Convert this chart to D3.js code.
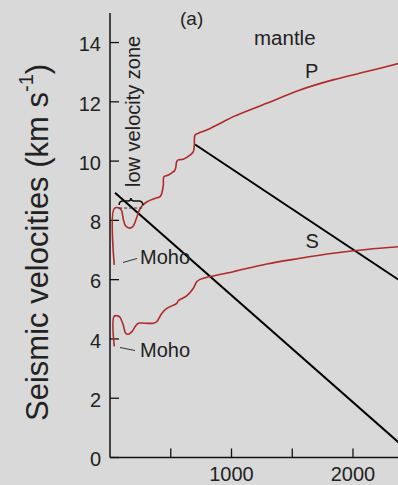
<!DOCTYPE html>
<html>
<head>
<meta charset="utf-8">
<script src="https://cdn.jsdelivr.net/npm/d3@7"></script>
<style>
  html, body { margin: 0; padding: 0; background: #d9d9d9; }
  svg { display: block; }
  text { font-family: "Liberation Sans", Arial, Helvetica, sans-serif; fill: #222; }
</style>
</head>
<body>
<svg id="chart" width="398" height="485"></svg>
<script>
// Depth (km) and seismic velocity (km/s) profiles
const pDepth = [35, 35, 82, 96, 110, 129, 165, 192, 220, 239, 261, 302, 371, 412, 425, 439, 444, 480, 535, 549, 562, 603, 658, 686, 694, 700, 727, 796, 905, 1015, 1290, 1564, 1835, 2113, 2400];
const pVel   = [6.50, 8.40, 8.40, 8.32, 8.03, 7.81, 7.74, 7.81, 8.10, 8.32, 8.48, 8.62, 8.74, 8.80, 8.90, 9.19, 9.47, 9.53, 9.70, 9.98, 10.04, 10.06, 10.20, 10.32, 10.54, 10.88, 10.94, 11.05, 11.27, 11.50, 11.95, 12.40, 12.74, 13.02, 13.32];

const sDepth = [35, 35, 68, 82, 109, 129, 151, 179, 206, 233, 288, 356, 384, 426, 467, 549, 562, 631, 686, 714, 741, 1015, 1290, 1564, 1838, 2113, 2400];
const sVel   = [3.75, 4.77, 4.77, 4.73, 4.47, 4.19, 4.16, 4.24, 4.41, 4.53, 4.53, 4.53, 4.58, 4.86, 5.03, 5.20, 5.29, 5.45, 5.71, 5.93, 6.01, 6.27, 6.53, 6.72, 6.89, 7.02, 7.12];

// Two straight reference lines (start and end points)
const line1Depth = [41, 2400];
const line1Vel   = [8.93, 0.42];
const line2Depth = [700, 2400];
const line2Vel   = [10.56, 5.93];

// Axis ticks
const yTicks = [0, 2, 4, 6, 8, 10, 12, 14];
const xTicks = [500, 1000, 1500, 2000];
const xTickLabels = [1000, 2000];

const svg = d3.select("#chart");

const x = d3.scaleLinear().domain([0, 2400]).range([110, 401.6]);
const y = d3.scaleLinear().domain([0, 15]).range([457.5, 12.9]);

// Axes lines
svg.append("line").attr("x1", x(0)).attr("x2", 398).attr("y1", y(0)).attr("y2", y(0))
  .attr("stroke", "#111").attr("stroke-width", 1.5);
svg.append("line").attr("x1", x(0)).attr("x2", x(0)).attr("y1", y(0)).attr("y2", y(15))
  .attr("stroke", "#111").attr("stroke-width", 1.5);

// Inward ticks
svg.selectAll(".ytick").data(yTicks).enter().append("line")
  .attr("x1", x(0)).attr("x2", x(0) + 9)
  .attr("y1", d => y(d)).attr("y2", d => y(d))
  .attr("stroke", "#111").attr("stroke-width", 1.3);
svg.selectAll(".xtick").data(xTicks).enter().append("line")
  .attr("x1", d => x(d)).attr("x2", d => x(d))
  .attr("y1", y(0)).attr("y2", y(0) - 9)
  .attr("stroke", "#111").attr("stroke-width", 1.3);

// Tick labels
svg.selectAll(".ylab").data(yTicks).enter().append("text")
  .attr("x", 101).attr("y", d => y(d) + 8.7)
  .attr("text-anchor", "end").attr("font-size", 20)
  .text(d => d);
svg.selectAll(".xlab").data(xTickLabels).enter().append("text")
  .attr("x", d => x(d)).attr("y", 480.5)
  .attr("text-anchor", "middle").attr("font-size", 20)
  .text(d => d);

// Y axis title
const yt = svg.append("text")
  .attr("transform", "translate(47.5,421) rotate(-90)")
  .attr("font-size", 31);
yt.append("tspan").text("Seismic velocities (km s");
yt.append("tspan").attr("font-size", 20).attr("dy", -15).text("-1");
yt.append("tspan").attr("dy", 15).text(")");

// Velocity profiles
const lineGen = d3.line().x(d => x(d[0])).y(d => y(d[1]));
const smoothGen = d3.line().x(d => x(d[0])).y(d => y(d[1])).curve(d3.curveCatmullRom.alpha(0.5));
const pData = pDepth.map((d, i) => [d, pVel[i]]);
const sData = sDepth.map((d, i) => [d, sVel[i]]);

// Straight reference lines
[[line1Depth, line1Vel], [line2Depth, line2Vel]].forEach(([dd, vv]) => {
  svg.append("path")
    .datum(dd.map((d, i) => [d, vv[i]]))
    .attr("d", lineGen)
    .attr("fill", "none").attr("stroke", "#000").attr("stroke-width", 2);
});

[pData, sData].forEach(data => {
  svg.append("path").datum(data).attr("d", smoothGen)
    .attr("fill", "none").attr("stroke", "#b02a2a").attr("stroke-width", 1.6)
    .attr("stroke-linejoin", "round");
});

// Low velocity zone bracket
const bx0 = x(75), bx1 = x(270), bxm = (bx0 + bx1) / 2, by = y(8.45);
svg.append("path")
  .attr("d", `M${bx0},${by - 2} Q${bx0},${by - 6} ${bx0 + 4},${by - 6} L${bxm - 3},${by - 6} Q${bxm},${by - 6} ${bxm},${by - 9} Q${bxm},${by - 6} ${bxm + 3},${by - 6} L${bx1 - 4},${by - 6} Q${bx1},${by - 6} ${bx1},${by - 2}`)
  .attr("fill", "none").attr("stroke", "#111").attr("stroke-width", 1.6);
svg.append("line")
  .attr("x1", bx0).attr("x2", bx1).attr("y1", by + 1).attr("y2", by + 1)
  .attr("stroke", "#333").attr("stroke-width", 1).attr("stroke-dasharray", "3,2");

svg.append("text")
  .attr("transform", "translate(140,187) rotate(-90)")
  .attr("font-size", 20).text("low velocity zone");

// Moho labels with pointers
svg.append("line").attr("x1", 123).attr("y1", 262.5).attr("x2", 137).attr("y2", 258.5)
  .attr("stroke", "#333").attr("stroke-width", 1);
svg.append("text").attr("x", 140).attr("y", 264).attr("font-size", 20).text("Moho");
svg.append("line").attr("x1", 120).attr("y1", 347.5).attr("x2", 135).attr("y2", 350.5)
  .attr("stroke", "#333").attr("stroke-width", 1);
svg.append("text").attr("x", 140).attr("y", 356.5).attr("font-size", 20).text("Moho");

// Other annotations
svg.append("text").attr("x", 180).attr("y", 25).attr("font-size", 19).text("(a)");
svg.append("text").attr("x", 254).attr("y", 45).attr("font-size", 20.5).text("mantle");
svg.append("text").attr("x", 305).attr("y", 78.3).attr("font-size", 20).text("P");
svg.append("text").attr("x", 305.5).attr("y", 248).attr("font-size", 20).text("S");
</script>
</body>
</html>
